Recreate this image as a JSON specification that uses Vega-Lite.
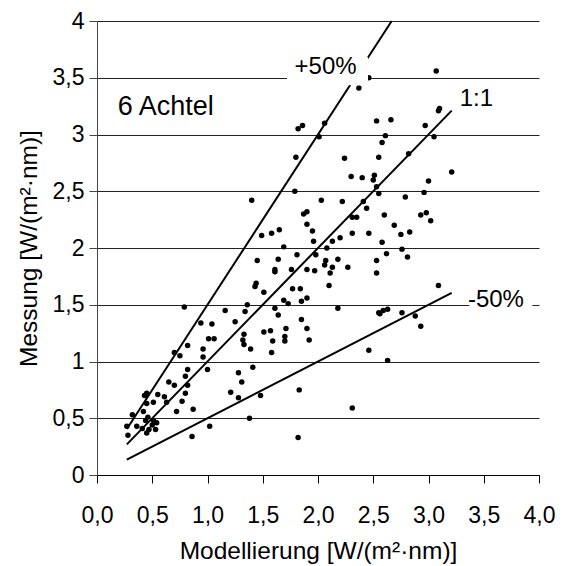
{
  "$schema": "https://vega.github.io/schema/vega-lite/v6.json",
  "width": 442,
  "height": 454,
  "autosize": {"type": "none"},
  "padding": {"left": 97, "top": 21, "right": 31, "bottom": 91},
  "background": "white",
  "config": {"view": {"stroke": null}, "font": "Liberation Sans"},
  "datasets": {
    "points": [
      {"x":3.07,"y":3.56},{"x":2.46,"y":3.50},{"x":2.37,"y":3.41},{"x":1.82,"y":3.05},{"x":1.86,"y":3.08},
      {"x":2.06,"y":3.10},{"x":2.01,"y":2.98},{"x":1.80,"y":2.80},{"x":1.79,"y":2.50},{"x":1.40,"y":2.42},
      {"x":2.03,"y":2.42},{"x":2.53,"y":3.12},{"x":2.66,"y":3.13},{"x":2.61,"y":2.99},{"x":2.58,"y":2.93},
      {"x":2.55,"y":2.80},{"x":2.24,"y":2.79},{"x":2.30,"y":2.63},{"x":2.40,"y":2.62},{"x":2.51,"y":2.64},
      {"x":2.50,"y":2.60},{"x":2.53,"y":2.54},{"x":2.55,"y":2.48},{"x":2.82,"y":2.83},{"x":2.97,"y":3.08},
      {"x":3.05,"y":2.98},{"x":3.09,"y":3.21},{"x":3.10,"y":3.23},{"x":3.21,"y":2.67},{"x":3.00,"y":2.59},
      {"x":2.96,"y":2.49},{"x":2.79,"y":2.45},{"x":2.22,"y":2.41},{"x":2.41,"y":2.41},{"x":2.44,"y":2.35},
      {"x":2.31,"y":2.27},{"x":2.35,"y":2.27},{"x":2.60,"y":2.29},{"x":2.69,"y":2.20},{"x":2.93,"y":2.29},
      {"x":2.98,"y":2.31},{"x":3.02,"y":2.24},{"x":2.75,"y":2.12},{"x":2.83,"y":2.14},{"x":2.31,"y":2.13},
      {"x":2.46,"y":2.13},{"x":2.20,"y":2.09},{"x":2.13,"y":2.06},{"x":2.58,"y":2.05},{"x":2.08,"y":2.00},
      {"x":2.76,"y":1.99},{"x":2.62,"y":1.95},{"x":2.81,"y":1.92},{"x":2.07,"y":1.89},{"x":2.06,"y":1.85},
      {"x":2.18,"y":1.90},{"x":2.13,"y":1.83},{"x":2.11,"y":1.78},{"x":2.27,"y":1.83},{"x":2.53,"y":1.89},
      {"x":2.53,"y":1.78},{"x":2.10,"y":1.67},{"x":3.09,"y":1.67},{"x":2.18,"y":1.47},{"x":2.55,"y":1.43},
      {"x":2.56,"y":1.42},{"x":2.59,"y":1.45},{"x":2.63,"y":1.46},{"x":2.76,"y":1.43},{"x":2.88,"y":1.40},
      {"x":2.93,"y":1.31},{"x":2.46,"y":1.10},{"x":2.63,"y":1.01},{"x":1.87,"y":2.30},{"x":1.90,"y":2.32},
      {"x":1.90,"y":2.21},{"x":1.95,"y":2.15},{"x":1.96,"y":2.06},{"x":1.49,"y":2.11},{"x":1.58,"y":2.13},
      {"x":1.65,"y":2.16},{"x":1.69,"y":2.01},{"x":1.45,"y":1.89},{"x":1.64,"y":1.90},{"x":1.61,"y":1.81},
      {"x":1.61,"y":1.79},{"x":1.76,"y":1.81},{"x":1.81,"y":1.94},{"x":1.90,"y":1.81},{"x":1.97,"y":1.80},
      {"x":1.98,"y":1.94},{"x":1.44,"y":1.69},{"x":1.43,"y":1.66},{"x":1.51,"y":1.61},{"x":1.77,"y":1.64},
      {"x":1.84,"y":1.64},{"x":1.69,"y":1.54},{"x":1.73,"y":1.51},{"x":1.85,"y":1.53},{"x":1.90,"y":1.56},
      {"x":1.61,"y":1.47},{"x":1.36,"y":1.50},{"x":1.34,"y":1.44},{"x":1.16,"y":1.45},{"x":0.79,"y":1.48},
      {"x":1.64,"y":1.41},{"x":1.25,"y":1.35},{"x":0.94,"y":1.34},{"x":1.04,"y":1.33},{"x":1.85,"y":1.37},
      {"x":1.90,"y":1.29},{"x":1.71,"y":1.29},{"x":1.70,"y":1.22},{"x":1.70,"y":1.18},{"x":1.92,"y":1.19},
      {"x":1.57,"y":1.27},{"x":1.51,"y":1.26},{"x":1.33,"y":1.24},{"x":1.01,"y":1.20},{"x":1.06,"y":1.20},
      {"x":1.32,"y":1.19},{"x":1.59,"y":1.18},{"x":0.82,"y":1.14},{"x":1.33,"y":1.15},{"x":1.39,"y":1.11},
      {"x":0.96,"y":1.11},{"x":0.75,"y":1.05},{"x":0.70,"y":1.08},{"x":1.58,"y":1.08},{"x":1.00,"y":0.93},
      {"x":0.82,"y":0.93},{"x":0.80,"y":0.87},{"x":0.96,"y":1.04},{"x":1.28,"y":0.90},{"x":1.41,"y":0.95},
      {"x":1.31,"y":0.82},{"x":1.28,"y":0.68},{"x":1.21,"y":0.73},{"x":1.48,"y":0.70},{"x":1.38,"y":0.50},
      {"x":1.83,"y":0.75},{"x":1.82,"y":0.33},{"x":2.31,"y":0.59},{"x":1.02,"y":0.43},{"x":0.86,"y":0.34},
      {"x":0.65,"y":0.82},{"x":0.70,"y":0.79},{"x":0.82,"y":0.79},{"x":0.80,"y":0.72},{"x":0.61,"y":0.69},
      {"x":0.55,"y":0.71},{"x":0.45,"y":0.72},{"x":0.43,"y":0.70},{"x":0.77,"y":0.65},{"x":0.63,"y":0.64},
      {"x":0.51,"y":0.64},{"x":0.45,"y":0.63},{"x":0.87,"y":0.58},{"x":0.72,"y":0.56},{"x":0.42,"y":0.56},
      {"x":0.32,"y":0.53},{"x":0.46,"y":0.51},{"x":0.44,"y":0.48},{"x":0.51,"y":0.48},{"x":0.54,"y":0.46},
      {"x":0.27,"y":0.43},{"x":0.36,"y":0.43},{"x":0.50,"y":0.44},{"x":0.47,"y":0.40},{"x":0.53,"y":0.40},
      {"x":0.45,"y":0.37},{"x":0.41,"y":0.41},{"x":0.28,"y":0.35}
    ],
    "lines": [
      {"line":"+50%","x":0.27,"y":0.405},{"line":"+50%","x":2.667,"y":4.0},
      {"line":"1:1","x":0.27,"y":0.27},{"line":"1:1","x":3.21,"y":3.21},
      {"line":"-50%","x":0.27,"y":0.135},{"line":"-50%","x":3.21,"y":1.605}
    ],
    "boxes": [
      {"x":1.72,"x2":2.453,"y":3.433,"y2":3.68},
      {"x":3.37,"x2":3.94,"y":1.41,"y2":1.67}
    ],
    "labels": [
      {"label":"+50%","x":2.069,"y":3.596},
      {"label":"1:1","x":3.434,"y":3.314},
      {"label":"-50%","x":3.61,"y":1.54}
    ],
    "title": [
      {"label":"6 Achtel","x":0.622,"y":3.244}
    ]
  },
  "layer": [
    {
      "data": {"name": "points"},
      "mark": {"type": "circle", "size": 30, "color": "#000", "opacity": 1},
      "encoding": {
        "x": {
          "field": "x", "type": "quantitative",
          "scale": {"domain": [0, 4], "nice": false, "zero": false},
          "axis": {
            "values": [0, 0.5, 1, 1.5, 2, 2.5, 3, 3.5, 4],
            "labelExpr": "replace(format(datum.value, '.1f'), '.', ',')",
            "grid": false,
            "domainColor": "#000", "domainWidth": 1,
            "tickColor": "#000", "tickSize": 8, "tickWidth": 1,
            "labelFontSize": 23, "labelColor": "#000", "labelPadding": 21,
            "labelFlush": false, "labelOverlap": false,
            "title": "Modellierung [W/(m²·nm)]",
            "titleFontSize": 24.5, "titleFontWeight": "normal", "titleColor": "#000",
            "titleBaseline": "alphabetic", "titleY": 83
          }
        },
        "y": {
          "field": "y", "type": "quantitative",
          "scale": {"domain": [0, 4], "nice": false, "zero": false},
          "axis": {
            "values": [0, 0.5, 1, 1.5, 2, 2.5, 3, 3.5, 4],
            "labelExpr": "replace(toString(datum.value), '.', ',')",
            "grid": true, "gridColor": "#222", "gridWidth": 1,
            "domainColor": "#444", "domainWidth": 1,
            "tickColor": "#444", "tickSize": 8, "tickWidth": 1,
            "labelFontSize": 23, "labelColor": "#000", "labelPadding": 5,
            "labelFlush": false, "labelOverlap": false,
            "title": "Messung [W/(m²·nm)]",
            "titleFontSize": 24.5, "titleFontWeight": "normal", "titleColor": "#000",
            "titleBaseline": "alphabetic", "titleX": -61
          }
        }
      }
    },
    {
      "data": {"name": "lines"},
      "mark": {"type": "line", "color": "#000", "strokeWidth": 2},
      "encoding": {
        "x": {"field": "x", "type": "quantitative"},
        "y": {"field": "y", "type": "quantitative"},
        "detail": {"field": "line"}
      }
    },
    {
      "data": {"name": "boxes"},
      "mark": {"type": "rect", "color": "#fff", "opacity": 1},
      "encoding": {
        "x": {"field": "x", "type": "quantitative"},
        "x2": {"field": "x2"},
        "y": {"field": "y", "type": "quantitative"},
        "y2": {"field": "y2"}
      }
    },
    {
      "data": {"name": "labels"},
      "mark": {"type": "text", "fontSize": 24, "color": "#000", "align": "center", "baseline": "middle"},
      "encoding": {
        "x": {"field": "x", "type": "quantitative"},
        "y": {"field": "y", "type": "quantitative"},
        "text": {"field": "label"}
      }
    },
    {
      "data": {"name": "title"},
      "mark": {"type": "text", "fontSize": 27, "color": "#000", "align": "center", "baseline": "middle"},
      "encoding": {
        "x": {"field": "x", "type": "quantitative"},
        "y": {"field": "y", "type": "quantitative"},
        "text": {"field": "label"}
      }
    }
  ]
}
